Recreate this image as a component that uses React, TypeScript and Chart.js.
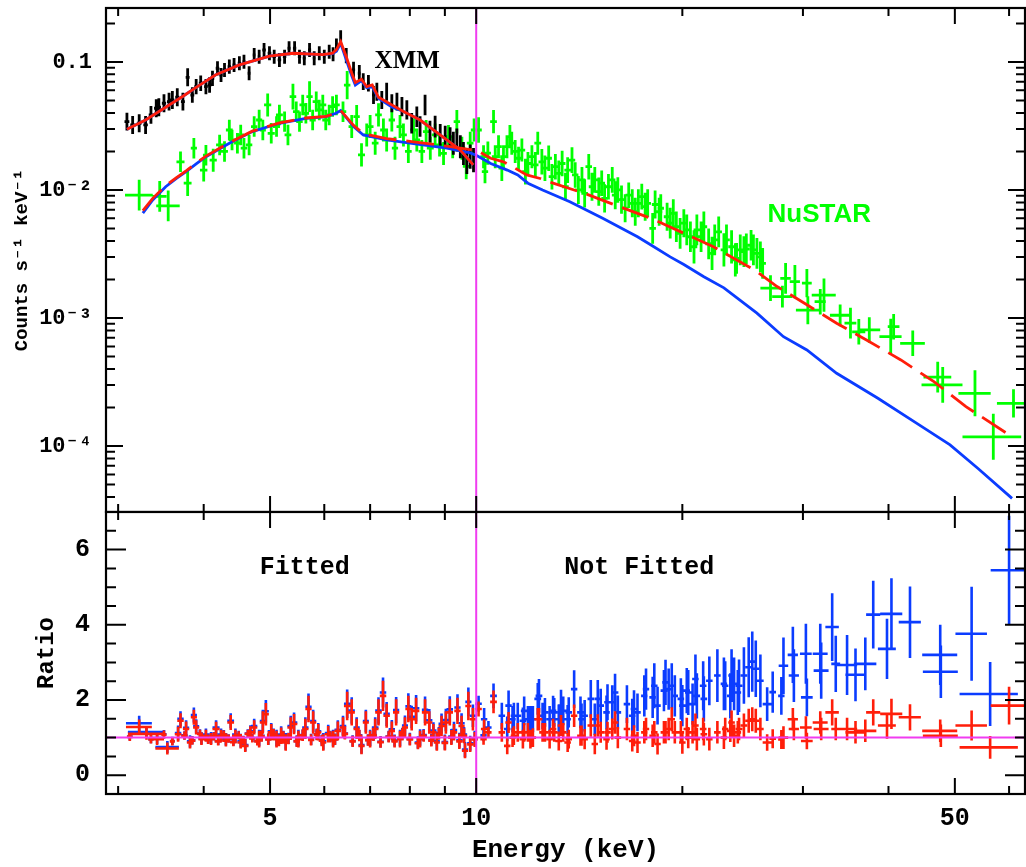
import React, { useEffect, useRef } from 'react';
import { Chart, registerables } from 'chart.js';

Chart.register(...registerables);

// ---------------- axis ranges & tick labels ----------------
const E_MIN = 2.88;
const E_MAX = 63.3;
const TOP_MIN = 3.05e-5;
const TOP_MAX = 0.264;
const RATIO_MIN = -0.5;
const RATIO_MAX = 7;

const E_TICKS = [5, 10, 50];
const E_LABELS = ['5', '10', '50'];
const E_MINOR = [3, 4, 6, 7, 8, 9, 20, 30, 40, 60];
const TOP_Y_TICKS = [1e-4, 1e-3, 1e-2, 0.1];
const TOP_Y_LABELS = ['10⁻⁴', '10⁻³', '10⁻²', '0.1'];
const RATIO_TICKS = [0, 2, 4, 6];
const RATIO_LABELS = ['0', '2', '4', '6'];
const RATIO_MINOR = [0.5, 1, 1.5, 2.5, 3, 3.5, 4.5, 5, 5.5, 6.5];

// ---------------- XMM spectrum (black) ----------------
const xmmE = [
  3.09, 3.15, 3.22, 3.29, 3.35, 3.41, 3.44, 3.50, 3.56, 3.60,
  3.66, 3.73, 3.79, 3.85, 3.90, 3.96, 4.03, 4.08, 4.12, 4.19,
  4.24, 4.29, 4.36, 4.43, 4.51, 4.58, 4.66, 4.74, 4.82, 4.90,
  4.99, 5.07, 5.16, 5.25, 5.33, 5.43, 5.52, 5.61, 5.71, 5.80,
  5.90, 6.00, 6.10, 6.18, 6.25, 6.34, 6.46, 6.62, 6.75, 6.84,
  6.96, 7.08, 7.16, 7.28, 7.40, 7.53, 7.66, 7.79, 7.92, 8.05,
  8.19, 8.28, 8.42, 8.56, 8.71, 8.86, 9.01, 9.16, 9.26, 9.37,
  9.48, 9.58, 9.69, 9.80, 9.91,
];
const xmmF = [
  0.0342, 0.0322, 0.0332, 0.0322, 0.0386, 0.0435, 0.0443, 0.0476, 0.0490, 0.0505,
  0.0530, 0.0490, 0.0759, 0.0552, 0.0641, 0.0682, 0.0641, 0.0661, 0.0745, 0.0893,
  0.0791, 0.0866, 0.0919, 0.0948, 0.0977, 0.1005, 0.0816, 0.1134, 0.110, 0.124,
  0.117, 0.110, 0.1037, 0.110, 0.128, 0.128, 0.110, 0.107, 0.124, 0.107,
  0.117, 0.110, 0.120, 0.115, 0.136, 0.158, 0.112, 0.0866, 0.0816, 0.0702,
  0.0682, 0.0552, 0.0586, 0.0505, 0.0586, 0.0476, 0.0490, 0.0448, 0.0422, 0.0332,
  0.0374, 0.0313, 0.0462, 0.0286, 0.0313, 0.0269, 0.0261, 0.0254, 0.0232, 0.0246,
  0.0218, 0.0193, 0.0166, 0.0182, 0.0171,
];
// half error bar length in decades
const xmmDex = [
  0.07, 0.07, 0.07, 0.07, 0.07, 0.07, 0.07, 0.07, 0.07, 0.07,
  0.07, 0.07, 0.07, 0.06, 0.06, 0.06, 0.06, 0.06, 0.06, 0.055,
  0.055, 0.055, 0.055, 0.055, 0.055, 0.055, 0.055, 0.055, 0.055, 0.055,
  0.055, 0.055, 0.055, 0.055, 0.055, 0.055, 0.055, 0.055, 0.055, 0.055,
  0.055, 0.055, 0.055, 0.055, 0.05, 0.05, 0.06, 0.065, 0.065, 0.065,
  0.065, 0.07, 0.07, 0.07, 0.07, 0.07, 0.07, 0.075, 0.075, 0.08,
  0.08, 0.08, 0.08, 0.085, 0.085, 0.085, 0.085, 0.085, 0.09, 0.09,
  0.09, 0.09, 0.095, 0.095, 0.095,
];
const xmmXErr = [
  0.025, 0.025, 0.025, 0.025, 0.025, 0.025, 0.025, 0.025, 0.025, 0.025,
  0.025, 0.025, 0.025, 0.025, 0.025, 0.025, 0.025, 0.025, 0.025, 0.025,
  0.025, 0.025, 0.025, 0.025, 0.025, 0.025, 0.025, 0.025, 0.025, 0.03,
  0.03, 0.03, 0.03, 0.03, 0.03, 0.03, 0.03, 0.03, 0.03, 0.03,
  0.03, 0.03, 0.03, 0.03, 0.03, 0.03, 0.03, 0.035, 0.035, 0.035,
  0.035, 0.035, 0.035, 0.035, 0.035, 0.035, 0.035, 0.035, 0.035, 0.035,
  0.04, 0.04, 0.04, 0.04, 0.04, 0.04, 0.04, 0.04, 0.04, 0.04,
  0.04, 0.04, 0.04, 0.04, 0.04,
];

// ---------------- NuSTAR spectrum (green) ----------------
const nuE = [
  3.22, 3.45, 3.55, 3.70, 3.79, 3.87, 4.00, 4.03, 4.13, 4.22,
  4.29, 4.36, 4.40, 4.48, 4.53, 4.58, 4.66, 4.74, 4.82, 4.88,
  4.96, 5.02, 5.11, 5.16, 5.25, 5.31, 5.40, 5.46, 5.52, 5.58,
  5.64, 5.71, 5.77, 5.84, 5.90, 5.97, 6.03, 6.10, 6.17, 6.25,
  6.39, 6.48, 6.58, 6.69, 6.80, 6.92, 7.00, 7.12, 7.20, 7.32,
  7.40, 7.53, 7.61, 7.74, 7.83, 7.96, 8.10, 8.19, 8.33, 8.45,
  8.57, 8.71, 8.84, 8.96, 9.11, 9.24, 9.37, 9.53, 9.67, 9.80,
  9.93,
  10.08, 10.25, 10.3, 10.4, 10.6, 10.66, 10.78, 10.9, 10.96, 11.09,
  11.2, 11.27, 11.4, 11.53, 11.66, 11.8, 11.9, 12.06, 12.2, 12.3,
  12.47, 12.6, 12.76, 12.9, 13.05, 13.2, 13.35, 13.5, 13.6, 13.8,
  13.95, 14.1, 14.27, 14.4, 14.6, 14.76, 14.9, 15.1, 15.25, 15.4,
  15.6, 15.8, 15.96, 16.1, 16.3, 16.5, 16.7, 16.9, 17.07, 17.25,
  17.45, 17.65, 17.8, 18.1, 18.25, 18.5, 18.6, 19.0, 19.2, 19.4,
  19.6, 19.85, 20.1, 20.3, 20.55, 20.8, 21.0, 21.3, 21.5, 21.85,
  22.1, 22.3, 22.6, 23.0, 23.2, 23.6, 23.9, 24.0, 24.3, 24.6,
  24.8, 25.2, 25.4, 25.7, 26.0, 26.2, 26.9, 28.0, 28.3, 29.2,
  30.4, 30.5, 31.8, 32.2, 34.0, 35.2, 36.2, 37.5, 40.3, 40.7,
  43.4, 47.2, 48.0, 53.5, 56.9, 60.9,
];
const nuF = [
  0.0091, 0.0089, 0.0075, 0.0166, 0.0113, 0.0212, 0.0143, 0.0187, 0.0171, 0.0225,
  0.0200, 0.0294, 0.0246, 0.0232, 0.0269, 0.0212, 0.0225, 0.0313, 0.0352, 0.0294,
  0.0462, 0.0277, 0.0313, 0.0386, 0.0342, 0.0269, 0.0536, 0.0409, 0.0342, 0.0462,
  0.0397, 0.0536, 0.0352, 0.0490, 0.0422, 0.0462, 0.0352, 0.0386, 0.0448, 0.0462,
  0.0409, 0.0660, 0.0313, 0.0374, 0.0188, 0.0269, 0.0313, 0.0232, 0.0386, 0.0294,
  0.0246, 0.0352, 0.0212, 0.0313, 0.0269, 0.0200, 0.0294, 0.0246, 0.0200, 0.0286,
  0.0212, 0.0269, 0.0225, 0.0193, 0.0261, 0.0218, 0.0342, 0.0212, 0.0153, 0.0232,
  0.0294,
  0.0294, 0.0182, 0.0139, 0.0194, 0.0342, 0.0182, 0.0218, 0.0148, 0.0182, 0.0218,
  0.0261, 0.0232, 0.0200, 0.0177, 0.0205, 0.0139, 0.0161, 0.0182, 0.0157, 0.0232,
  0.0166, 0.0148, 0.0177, 0.0127, 0.0152, 0.0135, 0.0161, 0.0106, 0.0143, 0.0171,
  0.0131, 0.0100, 0.0120, 0.0094, 0.0152, 0.0106, 0.0120, 0.0097, 0.0113, 0.0086,
  0.0106, 0.0120, 0.0091, 0.0100, 0.0084, 0.0072, 0.0091, 0.00787, 0.00676, 0.00787,
  0.00887, 0.0074, 0.00787, 0.00502, 0.0077, 0.00676, 0.0072, 0.00618, 0.0055, 0.00657,
  0.00516, 0.00459, 0.0055, 0.00487, 0.00431, 0.0036, 0.00487, 0.00431, 0.00516, 0.0038,
  0.0032, 0.00407, 0.0047, 0.0034, 0.00407, 0.0036, 0.00284, 0.00292, 0.0034, 0.0033,
  0.00346, 0.0037, 0.0034, 0.0032, 0.0030, 0.00267, 0.00171, 0.00147, 0.00204, 0.00192,
  0.00187, 0.00115, 0.00134, 0.00151, 0.00105, 0.00091, 0.00078, 0.000806, 0.000714, 0.000855,
  0.000634, 0.000345, 0.00030, 0.000258, 0.000118, 0.000215,
];
const nuDex = [
  0.12, 0.12, 0.12, 0.08, 0.10, 0.08, 0.09, 0.08, 0.09, 0.08,
  0.08, 0.08, 0.08, 0.08, 0.08, 0.08, 0.08, 0.08, 0.08, 0.08,
  0.09, 0.08, 0.08, 0.08, 0.08, 0.08, 0.10, 0.08, 0.08, 0.08,
  0.08, 0.12, 0.08, 0.08, 0.08, 0.08, 0.08, 0.08, 0.08, 0.08,
  0.08, 0.11, 0.09, 0.09, 0.09, 0.09, 0.09, 0.09, 0.09, 0.09,
  0.09, 0.09, 0.09, 0.09, 0.09, 0.09, 0.09, 0.09, 0.09, 0.09,
  0.09, 0.09, 0.09, 0.09, 0.09, 0.09, 0.09, 0.09, 0.10, 0.09,
  0.09,
  0.10, 0.09, 0.09, 0.09, 0.09, 0.09, 0.09, 0.10, 0.09, 0.09,
  0.09, 0.09, 0.09, 0.09, 0.09, 0.10, 0.09, 0.09, 0.10, 0.09,
  0.10, 0.10, 0.10, 0.10, 0.10, 0.10, 0.10, 0.11, 0.10, 0.10,
  0.10, 0.11, 0.10, 0.11, 0.10, 0.11, 0.10, 0.11, 0.10, 0.11,
  0.10, 0.10, 0.11, 0.10, 0.11, 0.11, 0.10, 0.11, 0.11, 0.11,
  0.10, 0.11, 0.11, 0.12, 0.11, 0.11, 0.11, 0.11, 0.12, 0.11,
  0.12, 0.12, 0.11, 0.12, 0.12, 0.13, 0.12, 0.12, 0.12, 0.12,
  0.13, 0.12, 0.12, 0.13, 0.12, 0.13, 0.13, 0.12, 0.12, 0.12,
  0.12, 0.12, 0.12, 0.12, 0.12, 0.12, 0.10, 0.085, 0.12, 0.13,
  0.11, 0.11, 0.10, 0.13, 0.085, 0.12, 0.10, 0.10, 0.14, 0.10,
  0.10, 0.12, 0.14, 0.18, 0.18, 0.11,
];
const nuXErr = [
  0.15, 0.08, 0.14, 0.05, 0.05, 0.04, 0.05, 0.04, 0.05, 0.05,
  0.05, 0.05, 0.05, 0.05, 0.05, 0.05, 0.05, 0.05, 0.05, 0.05,
  0.06, 0.06, 0.06, 0.06, 0.06, 0.06, 0.06, 0.06, 0.06, 0.06,
  0.06, 0.06, 0.06, 0.07, 0.07, 0.07, 0.07, 0.07, 0.07, 0.07,
  0.07, 0.07, 0.07, 0.07, 0.08, 0.08, 0.08, 0.08, 0.08, 0.08,
  0.08, 0.08, 0.08, 0.09, 0.09, 0.09, 0.09, 0.09, 0.09, 0.09,
  0.10, 0.10, 0.10, 0.10, 0.10, 0.10, 0.10, 0.11, 0.11, 0.11,
  0.11,
  0.11, 0.11, 0.11, 0.11, 0.12, 0.12, 0.12, 0.12, 0.12, 0.12,
  0.12, 0.12, 0.13, 0.13, 0.13, 0.13, 0.13, 0.13, 0.13, 0.14,
  0.14, 0.14, 0.14, 0.14, 0.14, 0.15, 0.15, 0.15, 0.15, 0.15,
  0.15, 0.16, 0.16, 0.16, 0.16, 0.16, 0.16, 0.17, 0.17, 0.17,
  0.17, 0.17, 0.18, 0.18, 0.18, 0.18, 0.18, 0.19, 0.19, 0.19,
  0.19, 0.19, 0.20, 0.20, 0.20, 0.20, 0.20, 0.21, 0.21, 0.21,
  0.22, 0.22, 0.22, 0.22, 0.23, 0.23, 0.23, 0.23, 0.24, 0.24,
  0.24, 0.25, 0.25, 0.25, 0.26, 0.26, 0.26, 0.26, 0.27, 0.27,
  0.27, 0.28, 0.28, 0.28, 0.29, 0.29, 0.9, 0.95, 0.5, 0.5,
  0.5, 1.2, 0.6, 1.3, 1.15, 0.7, 0.8, 1.4, 1.5, 0.8,
  1.8, 2.2, 3.3, 2.9, 5.6, 3.3,
];

// ---------------- model curves ----------------
const xmmModelE = [3.09, 3.29, 3.52, 3.73, 3.90, 4.16, 4.51, 4.99, 5.40, 5.97, 6.17, 6.25, 6.34, 6.46, 6.58, 6.66, 6.80, 6.92, 7.05, 7.20, 7.53, 7.83, 8.28, 9.06, 9.48, 9.90];
const xmmModelRed = [0.0298, 0.0352, 0.0443, 0.0540, 0.0634, 0.0791, 0.0948, 0.111, 0.117, 0.114, 0.117, 0.125, 0.144, 0.110, 0.082, 0.069, 0.0732, 0.0641, 0.0661, 0.053, 0.0462, 0.041, 0.0352, 0.0246, 0.0205, 0.0157];
const xmmModelBlue = [0.0298, 0.0352, 0.0443, 0.0540, 0.0634, 0.0791, 0.0948, 0.111, 0.117, 0.114, 0.116, 0.121, 0.140, 0.104, 0.078, 0.066, 0.0715, 0.063, 0.064, 0.052, 0.0445, 0.041, 0.0352, 0.0246, 0.0205, 0.0157];

const nuRedE = [3.26, 3.37, 3.52, 3.65, 3.77, 3.90, 4.03, 4.36, 4.71, 5.16, 5.64, 6.04, 6.24, 6.34, 6.62, 6.84, 7.40, 8.10, 9.06, 9.80, 10.0, 10.5, 10.96, 11.3, 11.85, 12.4, 12.95, 14.4, 16.2, 18.0, 20.1, 22.2, 25.5, 27.5, 30.4, 33.6, 37.2, 41.7, 46.6, 51.9, 60.6];
const nuRedF = [0.0069, 0.0086, 0.0108, 0.0125, 0.0141, 0.0162, 0.0184, 0.0234, 0.0288, 0.0334, 0.0365, 0.0376, 0.0399, 0.0418, 0.0320, 0.0275, 0.0252, 0.0238, 0.0220, 0.0207, 0.0205, 0.0177, 0.0166, 0.0152, 0.0131, 0.0123, 0.0113, 0.0094, 0.0074, 0.0060, 0.00459, 0.0036, 0.00237, 0.00176, 0.00127, 0.00091, 0.00067, 0.00047, 0.000318, 0.000203, 0.000118];
const nuBlueE = [3.26, 3.37, 3.52, 3.65, 3.77, 3.90, 4.03, 4.36, 4.71, 5.16, 5.64, 6.04, 6.24, 6.34, 6.62, 6.84, 7.40, 8.10, 9.06, 9.80, 10.0, 10.5, 11.1, 11.5, 11.9, 12.5, 13.7, 15.3, 17.2, 18.0, 19.2, 20.1, 21.5, 23.0, 25.7, 28.1, 30.4, 33.6, 38.6, 44.0, 49.2, 54.0, 60.6];
const nuBlueF = [0.0066, 0.00835, 0.0106, 0.0123, 0.0139, 0.0160, 0.0182, 0.0232, 0.0286, 0.0332, 0.0363, 0.0374, 0.0397, 0.0417, 0.0313, 0.0269, 0.0246, 0.0230, 0.0212, 0.0195, 0.0187, 0.0161, 0.0143, 0.0131, 0.0113, 0.0100, 0.0081, 0.0060, 0.00431, 0.00372, 0.0030, 0.00262, 0.0021, 0.00172, 0.00109, 0.000714, 0.000562, 0.00037, 0.000236, 0.00015, 0.000102, 0.000067, 0.000039];

// ---------------- ratio panel: fitted band (< 10 keV) ----------------
const fitE = [
  3.12, 3.22, 3.30, 3.35, 3.42, 3.50, 3.54, 3.60, 3.67, 3.70,
  3.75, 3.77, 3.82, 3.85, 3.87, 3.90, 3.95, 3.97, 4.03, 4.06,
  4.10, 4.14, 4.17, 4.20, 4.24, 4.28, 4.31, 4.35, 4.38, 4.42,
  4.45, 4.50, 4.53, 4.57, 4.60, 4.64, 4.68, 4.71, 4.74, 4.79,
  4.82, 4.86, 4.88, 4.93, 4.97, 5.02, 5.06, 5.11, 5.15, 5.19,
  5.23, 5.27, 5.32, 5.36, 5.42, 5.47, 5.50, 5.58, 5.63, 5.69,
  5.74, 5.78, 5.85, 5.88, 5.95, 5.98, 6.08, 6.12, 6.18, 6.22,
  6.28, 6.39, 6.43, 6.48, 6.58, 6.60, 6.69, 6.75, 6.80, 6.90,
  6.95, 7.00, 7.08, 7.12, 7.20, 7.25, 7.31, 7.40, 7.45, 7.53,
  7.60, 7.64, 7.74, 7.80, 7.87, 7.96, 8.00, 8.05, 8.17, 8.22,
  8.28, 8.38, 8.42, 8.54, 8.60, 8.66, 8.76, 8.82, 8.90, 9.00,
  9.03, 9.15, 9.20, 9.28, 9.39, 9.45, 9.52, 9.60, 9.63, 9.74,
  9.80, 9.89, 9.95,
];
const fitRed = [
  1.02, 1.28, 1.10, 0.95, 0.96, 1.08, 0.71, 0.90, 1.09, 1.45,
  1.05, 1.23, 0.87, 0.92, 1.54, 1.27, 1.10, 0.96, 1.05, 0.94,
  0.96, 1.03, 1.23, 0.90, 1.05, 1.08, 0.92, 0.97, 1.40, 0.88,
  1.05, 1.06, 0.87, 0.93, 0.78, 1.10, 1.14, 0.98, 1.27, 0.90,
  0.96, 1.04, 1.40, 1.62, 0.95, 1.14, 1.08, 0.96, 0.92, 1.05,
  1.02, 0.87, 0.97, 1.27, 1.36, 0.90, 0.96, 1.06, 1.23, 1.76,
  0.94, 1.40, 1.08, 1.14, 0.92, 0.87, 1.09, 1.02, 0.96, 0.95,
  1.18, 1.27, 1.10, 1.84, 1.67, 0.90, 1.23, 1.05, 0.78, 1.40,
  0.93, 0.96, 1.06, 1.23, 1.67, 0.88, 2.11, 1.58, 1.02, 1.18,
  0.90, 1.67, 0.96, 1.08, 1.27, 1.76, 0.95, 1.49, 1.71, 0.85,
  0.96, 1.05, 1.67, 1.40, 0.92, 1.14, 0.87, 1.10, 1.31, 0.86,
  1.40, 1.67, 1.00, 1.14, 1.71, 0.90, 1.31, 1.05, 0.65, 1.84,
  0.82, 1.49, 0.95,
];
const fitBlue = [
  1.03, 1.38, 1.15, 0.96, 0.99, 1.09, 0.75, 0.91, 1.12, 1.50,
  1.06, 1.26, 0.90, 0.93, 1.60, 1.30, 1.11, 0.98, 1.08, 0.95,
  0.99, 1.04, 1.27, 0.91, 1.08, 1.09, 0.95, 0.98, 1.45, 0.89,
  1.08, 1.07, 0.90, 0.94, 0.80, 1.11, 1.17, 0.99, 1.31, 0.91,
  0.99, 1.05, 1.44, 1.70, 0.96, 1.17, 1.09, 0.99, 0.93, 1.08,
  1.03, 0.90, 0.98, 1.31, 1.40, 0.91, 0.99, 1.07, 1.27, 1.82,
  0.95, 1.44, 1.09, 1.17, 0.93, 0.90, 1.12, 1.03, 0.99, 0.96,
  1.21, 1.31, 1.11, 1.90, 1.72, 0.91, 1.27, 1.06, 0.80, 1.44,
  0.94, 0.99, 1.07, 1.27, 1.72, 0.89, 2.20, 1.63, 1.03, 1.22,
  0.92, 1.73, 0.99, 1.10, 1.32, 1.83, 0.97, 1.55, 1.78, 0.87,
  1.00, 1.07, 1.74, 1.46, 0.94, 1.19, 0.90, 1.12, 1.37, 0.88,
  1.47, 1.75, 1.03, 1.20, 1.80, 0.93, 1.38, 1.08, 0.68, 1.95,
  0.85, 1.58, 0.98,
];
const fitErr = [
  0.11, 0.20, 0.16, 0.11, 0.16, 0.11, 0.16, 0.11, 0.20, 0.20,
  0.11, 0.20, 0.16, 0.11, 0.20, 0.19, 0.11, 0.16, 0.16, 0.11,
  0.16, 0.11, 0.19, 0.11, 0.16, 0.11, 0.16, 0.11, 0.20, 0.11,
  0.16, 0.11, 0.16, 0.11, 0.16, 0.11, 0.16, 0.11, 0.19, 0.11,
  0.22, 0.15, 0.30, 0.30, 0.15, 0.22, 0.15, 0.22, 0.15, 0.22,
  0.15, 0.22, 0.15, 0.27, 0.27, 0.15, 0.22, 0.15, 0.27, 0.35,
  0.15, 0.30, 0.15, 0.22, 0.15, 0.22, 0.22, 0.15, 0.22, 0.15,
  0.25, 0.27, 0.15, 0.38, 0.35, 0.15, 0.27, 0.15, 0.22, 0.30,
  0.15, 0.22, 0.15, 0.27, 0.35, 0.15, 0.40, 0.32, 0.15, 0.25,
  0.16, 0.35, 0.22, 0.16, 0.27, 0.35, 0.16, 0.30, 0.35, 0.16,
  0.22, 0.16, 0.35, 0.30, 0.16, 0.22, 0.22, 0.16, 0.27, 0.20,
  0.30, 0.35, 0.20, 0.22, 0.35, 0.20, 0.27, 0.20, 0.20, 0.38,
  0.20, 0.30, 0.20,
];
const fitXErr = [
  0.03, 0.14, 0.20, 0.03, 0.08, 0.03, 0.14, 0.03, 0.04, 0.04,
  0.04, 0.04, 0.04, 0.04, 0.04, 0.04, 0.04, 0.04, 0.05, 0.05,
  0.05, 0.05, 0.05, 0.05, 0.05, 0.05, 0.05, 0.05, 0.05, 0.05,
  0.05, 0.05, 0.05, 0.05, 0.05, 0.05, 0.05, 0.05, 0.05, 0.05,
  0.05, 0.05, 0.05, 0.05, 0.05, 0.06, 0.06, 0.06, 0.06, 0.06,
  0.06, 0.06, 0.06, 0.06, 0.06, 0.06, 0.06, 0.06, 0.06, 0.06,
  0.06, 0.06, 0.06, 0.06, 0.06, 0.06, 0.07, 0.07, 0.07, 0.07,
  0.07, 0.07, 0.07, 0.07, 0.07, 0.07, 0.07, 0.07, 0.07, 0.07,
  0.07, 0.08, 0.08, 0.08, 0.08, 0.08, 0.08, 0.08, 0.08, 0.08,
  0.08, 0.08, 0.08, 0.08, 0.08, 0.08, 0.09, 0.09, 0.09, 0.09,
  0.09, 0.09, 0.09, 0.09, 0.09, 0.09, 0.09, 0.09, 0.09, 0.10,
  0.10, 0.10, 0.10, 0.10, 0.10, 0.10, 0.10, 0.10, 0.10, 0.10,
  0.10, 0.10, 0.10,
];

// ---------------- ratio panel: not fitted band (> 10 keV) ----------------
const nfE = [
  10.08, 10.25, 10.27, 10.42, 10.6, 10.9, 11.1, 11.15, 11.3, 11.35,
  11.5, 11.7, 11.75, 11.9, 12.0, 12.1, 12.3, 12.35, 12.5, 12.6,
  12.8, 12.95, 13.0, 13.2, 13.3, 13.4, 13.6, 13.65, 13.9, 14.2,
  14.25, 14.4, 14.7, 14.9, 15.05, 15.2, 15.5, 15.55, 15.8, 15.95,
  16.1, 16.6, 16.9, 17.0, 17.2, 17.6, 17.7, 18.1, 18.2, 18.4,
  18.8, 18.9, 19.1, 19.3, 19.5, 19.9, 20.0, 20.3, 20.4, 20.7,
  20.9, 21.0, 21.45, 21.5, 21.9, 22.5, 23.0, 23.1, 23.5, 23.6,
  23.8, 24.1, 24.2, 24.6, 25.0, 25.3, 25.6, 26.0, 26.6, 27.1,
  27.9, 28.1, 29.0, 29.1, 30.3, 30.4, 31.8, 31.9, 33.1, 33.5,
  34.8, 35.8, 37.0, 38.0, 39.8, 40.4, 43.0, 47.6, 47.7, 52.9,
  56.3, 60.0,
];
const nfRed = [
  1.76, 0.96, 1.23, 1.14, 1.95, 1.14, 0.78, 1.40, 1.00, 1.05,
  1.14, 0.96, 1.14, 1.14, 0.96, 1.00, 1.49, 1.49, 1.14, 1.14,
  0.96, 1.23, 1.14, 0.91, 1.32, 1.14, 0.87, 0.96, 1.58, 1.05,
  1.05, 0.96, 1.32, 0.83, 1.32, 1.14, 0.96, 1.14, 1.23, 1.40,
  1.00, 1.23, 0.91, 1.05, 0.87, 1.14, 1.23, 1.05, 1.14, 0.83,
  1.14, 1.14, 1.23, 1.49, 1.14, 1.14, 0.87, 1.23, 1.00, 1.14,
  1.32, 0.96, 1.23, 1.09, 0.96, 1.14, 1.00, 1.23, 1.18, 1.40,
  1.05, 1.14, 1.23, 1.32, 1.45, 1.49, 1.45, 1.23, 0.87, 0.97,
  0.95, 1.00, 1.49, 1.23, 1.27, 0.91, 1.40, 1.23, 1.67, 1.23,
  1.23, 1.14, 1.18, 1.67, 1.32, 1.63, 1.54, 1.18, 1.05, 1.32,
  0.74, 1.85,
];
const nfBlue = [
  1.90, 1.06, 1.49, 1.27, 2.11, 1.58, 1.23, 1.85, 1.49, 1.58,
  1.58, 1.45, 1.71, 1.49, 1.49, 1.49, 2.03, 2.11, 1.58, 1.67,
  1.49, 1.71, 1.67, 1.49, 1.85, 1.71, 1.49, 1.67, 2.29, 1.67,
  1.49, 1.58, 2.03, 1.49, 2.03, 1.85, 1.67, 1.94, 1.94, 2.20,
  1.67, 1.89, 1.58, 1.76, 1.67, 2.11, 2.29, 2.07, 2.38, 1.85,
  2.25, 2.47, 2.29, 2.38, 2.11, 2.03, 1.85, 2.25, 2.20, 1.89,
  2.56, 2.11, 2.38, 2.03, 2.51, 2.65, 2.43, 2.38, 2.11, 2.65,
  2.43, 2.20, 2.38, 2.65, 2.87, 3.02, 2.83, 2.51, 1.89, 2.21,
  2.11, 2.91, 3.20, 2.65, 3.23, 2.07, 3.23, 2.78, 3.94, 2.96,
  2.93, 2.67, 2.96, 4.27, 3.36, 4.29, 4.07, 3.20, 2.75, 3.76,
  2.16, 5.45,
];
const nfRedErr = [
  0.20, 0.15, 0.25, 0.15, 0.30, 0.25, 0.22, 0.28, 0.25, 0.25,
  0.25, 0.25, 0.25, 0.25, 0.25, 0.25, 0.30, 0.30, 0.25, 0.25,
  0.25, 0.27, 0.25, 0.25, 0.28, 0.25, 0.25, 0.25, 0.30, 0.27,
  0.27, 0.27, 0.30, 0.27, 0.30, 0.28, 0.28, 0.28, 0.28, 0.30,
  0.28, 0.30, 0.28, 0.28, 0.28, 0.30, 0.30, 0.30, 0.30, 0.28,
  0.30, 0.30, 0.30, 0.32, 0.30, 0.30, 0.30, 0.30, 0.28, 0.30,
  0.32, 0.30, 0.30, 0.30, 0.30, 0.30, 0.30, 0.30, 0.30, 0.32,
  0.30, 0.30, 0.30, 0.32, 0.32, 0.32, 0.32, 0.30, 0.22, 0.25,
  0.25, 0.30, 0.30, 0.30, 0.30, 0.22, 0.30, 0.30, 0.35, 0.30,
  0.30, 0.30, 0.30, 0.35, 0.35, 0.40, 0.35, 0.30, 0.30, 0.40,
  0.30, 0.50,
];
const nfBlueErr = [
  0.21, 0.16, 0.30, 0.17, 0.33, 0.35, 0.33, 0.40, 0.35, 0.35,
  0.35, 0.35, 0.38, 0.35, 0.35, 0.35, 0.42, 0.45, 0.35, 0.38,
  0.35, 0.40, 0.38, 0.38, 0.42, 0.38, 0.38, 0.40, 0.50, 0.42,
  0.42, 0.42, 0.50, 0.42, 0.50, 0.45, 0.45, 0.48, 0.45, 0.50,
  0.45, 0.50, 0.45, 0.50, 0.50, 0.55, 0.55, 0.55, 0.60, 0.50,
  0.55, 0.60, 0.55, 0.60, 0.55, 0.55, 0.55, 0.60, 0.60, 0.55,
  0.65, 0.60, 0.65, 0.60, 0.65, 0.70, 0.70, 0.65, 0.60, 0.70,
  0.70, 0.60, 0.70, 0.75, 0.80, 0.80, 0.75, 0.70, 0.45, 0.55,
  0.50, 0.75, 0.75, 0.70, 0.80, 0.50, 0.80, 0.75, 0.90, 0.75,
  0.80, 0.70, 0.70, 0.90, 0.80, 0.95, 0.95, 0.80, 0.70, 1.25,
  0.85, 1.45,
];
const nfXErr = [
  0.11, 0.11, 0.11, 0.11, 0.12, 0.12, 0.12, 0.12, 0.12, 0.12,
  0.13, 0.13, 0.13, 0.13, 0.13, 0.13, 0.14, 0.14, 0.14, 0.14,
  0.14, 0.14, 0.14, 0.15, 0.15, 0.15, 0.15, 0.15, 0.15, 0.16,
  0.16, 0.16, 0.16, 0.16, 0.17, 0.17, 0.17, 0.17, 0.17, 0.18,
  0.18, 0.18, 0.19, 0.19, 0.19, 0.19, 0.19, 0.20, 0.20, 0.20,
  0.21, 0.21, 0.21, 0.21, 0.21, 0.22, 0.22, 0.22, 0.22, 0.23,
  0.23, 0.23, 0.24, 0.24, 0.24, 0.25, 0.25, 0.25, 0.26, 0.26,
  0.26, 0.27, 0.27, 0.27, 0.28, 0.28, 0.28, 0.29, 0.4, 0.3,
  0.3, 0.45, 0.5, 0.5, 0.6, 0.6, 0.8, 0.8, 0.75, 0.5,
  1.2, 1.2, 1.4, 0.9, 1.2, 1.5, 1.6, 2.8, 2.8, 2.8,
  5.5, 3.6,
];

// ---------------- styles ----------------
const RED = '#ff1e0a';
const BLUE = '#0b3cff';
const GREEN = '#00ff00';
const MAGENTA = '#f03cf0';
const MONO = "'Liberation Mono', 'DejaVu Sans Mono', monospace";
const SERIF = "'Liberation Serif', 'DejaVu Serif', serif";
const SANS = "'Liberation Sans', 'DejaVu Sans', sans-serif";

// ---------------- helpers building library tables ----------------
function logErrPoints(E: number[], F: number[], dex: number[], xe: number[]) {
  return E.map((e, i) => ({
    x: e, y: F[i],
    xl: e - xe[i], xh: e + xe[i],
    yl: F[i] / Math.pow(10, dex[i]), yh: F[i] * Math.pow(10, dex[i]),
  }));
}
function linErrPoints(E: number[], R: number[], err: number[], xe: number[]) {
  return E.map((e, i) => ({
    x: e, y: R[i], xl: e - xe[i], xh: e + xe[i], yl: R[i] - err[i], yh: R[i] + err[i],
  }));
}
function curve(E: number[], F: number[]) {
  return E.map((e, i) => ({ x: e, y: F[i] }));
}

// ---------------- plugins ----------------
const errorBarPlugin = {
  id: 'errorBars',
  beforeDatasetsDraw(chart: any) {
    const { ctx, chartArea: a } = chart;
    const xs = chart.scales.x;
    const ys = chart.scales.y;
    ctx.save();
    ctx.beginPath();
    ctx.rect(a.left, a.top, a.right - a.left, a.bottom - a.top);
    ctx.clip();
    ctx.lineCap = 'butt';
    for (const ds of chart.data.datasets) {
      if (!ds.errorBars) continue;
      ctx.strokeStyle = ds.borderColor;
      ctx.lineWidth = ds.errorWidth || 2;
      ctx.beginPath();
      for (const p of ds.data) {
        const px = xs.getPixelForValue(p.x);
        const py = ys.getPixelForValue(p.y);
        ctx.moveTo(xs.getPixelForValue(p.xl), py);
        ctx.lineTo(xs.getPixelForValue(p.xh), py);
        ctx.moveTo(px, ys.getPixelForValue(p.yl));
        ctx.lineTo(px, ys.getPixelForValue(p.yh));
      }
      ctx.stroke();
    }
    ctx.restore();
  },
};

function makeFramePlugin(cfg: any) {
  return {
    id: 'frameTicks',
    afterDraw(chart: any) {
      const { ctx, chartArea: a } = chart;
      const xs = chart.scales.x;
      const ys = chart.scales.y;
      ctx.save();
      ctx.strokeStyle = '#000';
      ctx.lineWidth = 2;
      ctx.lineCap = 'butt';
      ctx.beginPath();
      const vt = (v: number, len: number) => {
        const p = xs.getPixelForValue(v);
        ctx.moveTo(p, a.top); ctx.lineTo(p, a.top + len);
        ctx.moveTo(p, a.bottom); ctx.lineTo(p, a.bottom - len);
      };
      const ht = (v: number, len: number) => {
        const p = ys.getPixelForValue(v);
        ctx.moveTo(a.left, p); ctx.lineTo(a.left + len, p);
        ctx.moveTo(a.right, p); ctx.lineTo(a.right - len, p);
      };
      cfg.xMajor.forEach((v: number) => vt(v, cfg.xMajorLen));
      cfg.xMinor.forEach((v: number) => vt(v, cfg.xMinorLen));
      cfg.yMajor.forEach((v: number) => ht(v, cfg.yMajorLen));
      cfg.yMinor.forEach((v: number) => ht(v, cfg.yMinorLen));
      ctx.stroke();
      ctx.lineWidth = 2.2;
      ctx.strokeRect(a.left, a.top, a.right - a.left, a.bottom - a.top);
      ctx.restore();
    },
  };
}

function makeAnnotPlugin(cfg: any) {
  return {
    id: 'annot',
    afterDatasetsDraw(chart: any) {
      const { ctx, chartArea: a } = chart;
      const xs = chart.scales.x;
      const ys = chart.scales.y;
      ctx.save();
      ctx.strokeStyle = MAGENTA;
      ctx.lineWidth = 2;
      ctx.beginPath();
      const vx = xs.getPixelForValue(cfg.vLine);
      ctx.moveTo(vx, a.top); ctx.lineTo(vx, a.bottom);
      if (cfg.hLine !== undefined) {
        const hy = ys.getPixelForValue(cfg.hLine);
        ctx.moveTo(a.left, hy); ctx.lineTo(a.right, hy);
      }
      ctx.stroke();
      ctx.textAlign = 'center';
      ctx.textBaseline = 'middle';
      for (const t of cfg.texts) {
        ctx.font = t.font;
        ctx.fillStyle = t.color;
        ctx.fillText(t.text, xs.getPixelForValue(t.x), ys.getPixelForValue(t.y));
      }
      ctx.restore();
    },
  };
}

function topMinorTicks() {
  const out: number[] = [];
  for (let d = -5; d <= -1; d++) {
    for (let k = 2; k <= 9; k++) {
      const v = k * Math.pow(10, d);
      if (v > TOP_MIN && v < TOP_MAX) out.push(v);
    }
  }
  return out;
}

function topConfig(): any {
  return {
    type: 'scatter',
    data: {
      datasets: [
        { label: 'NuSTAR', data: logErrPoints(nuE, nuF, nuDex, nuXErr), borderColor: GREEN, backgroundColor: GREEN, pointRadius: 0, showLine: false, errorBars: true, errorWidth: 2.8 },
        { label: 'XMM', data: logErrPoints(xmmE, xmmF, xmmDex, xmmXErr), borderColor: '#000', backgroundColor: '#000', pointRadius: 0, showLine: false, errorBars: true, errorWidth: 2.8 },
        { label: 'XMM model', data: curve(xmmModelE, xmmModelRed), borderColor: RED, borderWidth: 2.8, showLine: true, pointRadius: 0, order: 0 },
        { label: 'XMM model (blue)', data: curve(xmmModelE, xmmModelBlue), borderColor: BLUE, borderWidth: 2.8, showLine: true, pointRadius: 0, order: 1 },
        { label: 'NuSTAR model', data: curve(nuRedE, nuRedF), borderColor: RED, borderWidth: 2.8, borderDash: [28, 10], showLine: true, pointRadius: 0, order: 0 },
        { label: 'NuSTAR model (blue)', data: curve(nuBlueE, nuBlueF), borderColor: BLUE, borderWidth: 2.8, showLine: true, pointRadius: 0, order: 1 },
      ],
    },
    options: {
      responsive: false,
      maintainAspectRatio: false,
      animation: false,
      events: [],
      layout: { padding: { left: 0, right: 1, top: 8, bottom: 1 } },
      plugins: { legend: { display: false }, tooltip: { enabled: false } },
      scales: {
        x: { type: 'logarithmic', min: E_MIN, max: E_MAX, display: false },
        y: {
          type: 'logarithmic', min: TOP_MIN, max: TOP_MAX, position: 'left',
          grid: { display: false, drawTicks: false },
          border: { display: false },
          afterBuildTicks: (s: any) => { s.ticks = TOP_Y_TICKS.map((v) => ({ value: v })); },
          afterFit: (s: any) => { s.width = 106; s.paddingTop = 0; s.paddingBottom = 0; },
          ticks: {
            autoSkip: false, padding: 14, color: '#000',
            font: { family: MONO, size: 22, weight: 'bold' },
            callback: (_v: any, i: number) => TOP_Y_LABELS[i],
          },
          title: {
            display: true, text: 'Counts s⁻¹ keV⁻¹', color: '#000',
            font: { family: MONO, size: 19, weight: 'bold' },
            padding: { top: 11, bottom: 0 },
          },
        },
      },
    },
    plugins: [
      errorBarPlugin,
      makeAnnotPlugin({
        vLine: 10,
        texts: [
          { text: 'XMM', x: 7.93, y: 0.1, font: `bold 25px ${SERIF}`, color: '#000' },
          { text: 'NuSTAR', x: 31.7, y: 0.00638, font: `bold 26px ${SANS}`, color: GREEN },
        ],
      }),
      makeFramePlugin({
        xMajor: E_TICKS, xMinor: E_MINOR, xMajorLen: 16, xMinorLen: 8,
        yMajor: TOP_Y_TICKS, yMinor: topMinorTicks(), yMajorLen: 17, yMinorLen: 9,
      }),
    ],
  };
}

function bottomConfig(): any {
  return {
    type: 'scatter',
    data: {
      datasets: [
        { label: 'Ratio (blue model)', data: linErrPoints(fitE, fitBlue, fitErr, fitXErr).concat(linErrPoints(nfE, nfBlue, nfBlueErr, nfXErr)), borderColor: BLUE, pointRadius: 0, showLine: false, errorBars: true, errorWidth: 2.6 },
        { label: 'Ratio (red model)', data: linErrPoints(fitE, fitRed, fitErr, fitXErr).concat(linErrPoints(nfE, nfRed, nfRedErr, nfXErr)), borderColor: RED, pointRadius: 0, showLine: false, errorBars: true, errorWidth: 2.6 },
      ],
    },
    options: {
      responsive: false,
      maintainAspectRatio: false,
      animation: false,
      events: [],
      layout: { padding: { left: 0, right: 1, top: 12, bottom: 0 } },
      plugins: { legend: { display: false }, tooltip: { enabled: false } },
      scales: {
        x: {
          type: 'logarithmic', min: E_MIN, max: E_MAX, position: 'bottom',
          grid: { display: false, drawTicks: false },
          border: { display: false },
          afterBuildTicks: (s: any) => { s.ticks = E_TICKS.map((v) => ({ value: v })); },
          afterFit: (s: any) => { s.height = 73; s.paddingLeft = 0; s.paddingRight = 0; },
          ticks: {
            autoSkip: false, maxRotation: 0, minRotation: 0, padding: 10, color: '#000',
            font: { family: MONO, size: 25, weight: 'bold' },
            callback: (_v: any, i: number) => E_LABELS[i],
          },
          title: {
            display: true, text: 'Energy (keV)', color: '#000',
            font: { family: MONO, size: 26, weight: 'bold' },
            padding: { top: 0, bottom: 1 },
          },
        },
        y: {
          type: 'linear', min: RATIO_MIN, max: RATIO_MAX, position: 'left',
          grid: { display: false, drawTicks: false },
          border: { display: false },
          afterBuildTicks: (s: any) => { s.ticks = RATIO_TICKS.map((v) => ({ value: v })); },
          afterFit: (s: any) => { s.width = 106; s.paddingTop = 0; s.paddingBottom = 0; },
          ticks: {
            autoSkip: false, padding: 16, color: '#000',
            font: { family: MONO, size: 25, weight: 'bold' },
            callback: (_v: any, i: number) => RATIO_LABELS[i],
          },
          title: {
            display: true, text: 'Ratio', color: '#000',
            font: { family: MONO, size: 24, weight: 'bold' },
            padding: { top: 33, bottom: 0 },
          },
        },
      },
    },
    plugins: [
      errorBarPlugin,
      makeAnnotPlugin({
        vLine: 10,
        hLine: 1,
        texts: [
          { text: 'Fitted', x: 5.62, y: 5.52, font: `bold 25px ${MONO}`, color: '#000' },
          { text: 'Not Fitted', x: 17.3, y: 5.52, font: `bold 25px ${MONO}`, color: '#000' },
        ],
      }),
      makeFramePlugin({
        xMajor: E_TICKS, xMinor: E_MINOR, xMajorLen: 16, xMinorLen: 8,
        yMajor: RATIO_TICKS, yMinor: RATIO_MINOR, yMajorLen: 20, yMinorLen: 10,
      }),
    ],
  };
}

export default function App() {
  const topRef = useRef<HTMLCanvasElement>(null);
  const botRef = useRef<HTMLCanvasElement>(null);

  useEffect(() => {
    if (!topRef.current || !botRef.current) return;
    const top = new Chart(topRef.current, topConfig());
    const bot = new Chart(botRef.current, bottomConfig());
    return () => {
      top.destroy();
      bot.destroy();
    };
  }, []);

  return (
    <div style={{ position: 'absolute', left: 0, top: 0, width: 1026, height: 867, background: '#fff', overflow: 'hidden' }}>
      <canvas ref={topRef} width={1026} height={513} style={{ position: 'absolute', left: 0, top: 0, width: 1026, height: 513 }} />
      <canvas ref={botRef} width={1026} height={367} style={{ position: 'absolute', left: 0, top: 500, width: 1026, height: 367 }} />
    </div>
  );
}
